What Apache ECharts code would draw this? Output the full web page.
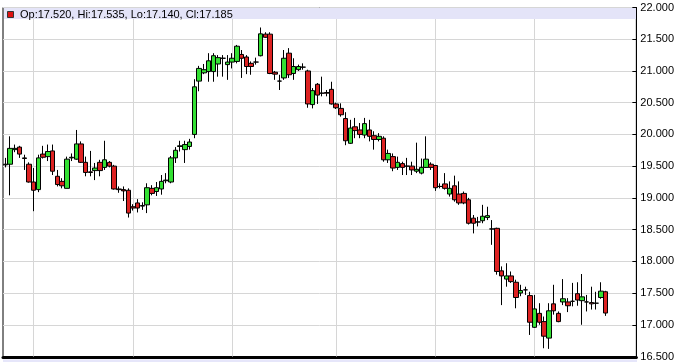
<!DOCTYPE html>
<html>
<head>
<meta charset="utf-8">
<script src="https://cdn.jsdelivr.net/npm/echarts@6/dist/echarts.min.js"></script>
<style>
html,body{margin:0;padding:0;background:#fff;}
#chart{width:677px;height:362px;}
</style>
</head>
<body>
<div id="chart"></div>
<script>
// ---- data ----
const opens = [
19.52, 19.53, 19.76, 19.80, 19.63, 19.53, 19.25, 19.13, 19.69, 19.65,
19.74, 19.34, 19.26, 19.15, 19.63, 19.61, 19.85, 19.56, 19.41, 19.43,
19.56, 19.48, 19.56, 19.50, 19.14, 19.13, 19.12, 18.86, 18.92, 18.87,
18.89, 19.15, 19.10, 19.14, 19.27, 19.25, 19.63, 19.81, 19.76, 19.81,
20.00, 20.84, 20.97, 20.99, 20.99, 21.11, 21.20, 21.10, 21.14, 21.15,
21.26, 21.22, 21.12, 21.14, 21.24, 21.58, 21.58, 20.98, 20.84, 20.89,
21.28, 20.96, 21.02, 21.06, 21.00, 20.47, 20.79, 20.65, 20.66, 20.71,
20.48, 20.41, 20.25, 19.86, 20.12, 20.07, 19.99, 20.07, 19.98, 19.92,
19.94, 19.60, 19.65, 19.48, 19.54, 19.50, 19.50, 19.42, 19.39, 19.48,
19.53, 19.51, 19.18, 19.22, 19.06, 19.19, 19.06, 19.07, 18.97, 18.68,
18.62, 18.64, 18.69, 18.51, 18.52, 17.85, 17.72, 17.77, 17.67, 17.50,
17.55, 17.46, 16.96, 17.18, 17.05, 16.79, 17.33, 17.18, 17.36, 17.36,
17.37, 17.49, 17.38, 17.36, 17.35, 17.34, 17.43, 17.52
];
const closes = [
19.53, 19.78, 19.78, 19.69, 19.62, 19.25, 19.12, 19.63, 19.64, 19.73,
19.42, 19.21, 19.19, 19.61, 19.64, 19.85, 19.56, 19.40, 19.40, 19.47,
19.43, 19.60, 19.50, 19.14, 19.13, 19.11, 18.76, 18.84, 18.84, 18.88,
19.16, 19.07, 19.16, 19.26, 19.28, 19.63, 19.75, 19.82, 19.84, 19.88,
20.75, 21.04, 21.02, 21.16, 21.24, 21.21, 21.20, 21.14, 21.20, 21.39,
21.20, 21.07, 21.07, 21.14, 21.585, 21.53, 20.96, 20.95, 20.84, 21.20,
20.94, 21.07, 21.07, 21.06, 20.48, 20.69, 20.62, 20.65, 20.65, 20.48,
20.42, 20.31, 19.90, 20.10, 20.06, 20.00, 20.17, 19.97, 19.92, 19.97,
19.60, 19.70, 19.47, 19.56, 19.48, 19.50, 19.44, 19.45, 19.48, 19.61,
19.48, 19.16, 19.18, 19.15, 19.15, 18.97, 18.92, 18.92, 18.60, 18.60,
18.62, 18.71, 18.72, 18.51, 17.84, 17.77, 17.77, 17.68, 17.43, 17.54,
17.55, 17.04, 17.25, 17.04, 16.82, 17.22, 17.22, 17.05, 17.41, 17.30,
17.37, 17.39, 17.44, 17.36, 17.33, 17.34, 17.53, 17.185
];
const lows = [
19.48, 19.04, 19.72, 19.63, 19.44, 19.24, 18.79, 19.09, 19.62, 19.58,
19.36, 19.18, 19.15, 19.15, 19.58, 19.60, 19.55, 19.34, 19.34, 19.28,
19.34, 19.44, 19.48, 19.13, 19.08, 18.95, 18.69, 18.80, 18.77, 18.81,
18.76, 19.04, 19.03, 19.05, 19.23, 19.23, 19.55, 19.73, 19.55, 19.76,
19.94, 20.68, 20.95, 20.83, 20.83, 20.91, 20.91, 20.86, 21.04, 21.12,
20.89, 20.95, 20.94, 21.10, 21.23, 21.52, 20.95, 20.86, 20.70, 20.86,
20.89, 20.86, 21.00, 21.02, 20.42, 20.41, 20.48, 20.60, 20.60, 20.47,
20.40, 20.28, 19.83, 19.85, 19.94, 19.94, 19.94, 19.89, 19.76, 19.89,
19.57, 19.55, 19.42, 19.44, 19.36, 19.36, 19.36, 19.39, 19.37, 19.47,
19.44, 19.11, 19.15, 19.13, 19.02, 18.94, 18.89, 18.90, 18.58, 18.44,
18.55, 18.60, 18.65, 18.26, 17.79, 17.31, 17.60, 17.66, 17.26, 17.45,
17.47, 16.84, 16.95, 17.00, 16.63, 16.62, 17.16, 17.04, 17.31, 17.20,
17.29, 17.30, 17.00, 17.21, 17.24, 17.24, 17.41, 17.14
];
const highs = [
19.63, 19.97, 19.84, 19.82, 19.68, 19.56, 19.47, 19.68, 19.82, 19.84,
19.84, 19.44, 19.31, 19.65, 19.70, 20.07, 19.89, 19.65, 19.74, 19.55,
19.60, 19.90, 19.58, 19.52, 19.18, 19.18, 19.15, 18.90, 18.98, 18.93,
19.23, 19.20, 19.25, 19.36, 19.39, 19.66, 19.80, 19.90, 19.90, 19.93,
20.87, 21.08, 21.11, 21.28, 21.28, 21.25, 21.25, 21.25, 21.28, 21.41,
21.33, 21.25, 21.15, 21.21, 21.685, 21.61, 21.61, 21.00, 20.94, 21.33,
21.36, 21.20, 21.10, 21.12, 21.02, 20.73, 20.81, 20.91, 20.70, 20.83,
20.50, 20.49, 20.35, 20.23, 20.26, 20.18, 20.26, 20.23, 20.05, 20.02,
19.97, 19.76, 19.70, 19.65, 19.57, 19.63, 19.57, 19.87, 19.62, 19.97,
19.56, 19.52, 19.23, 19.39, 19.26, 19.35, 19.26, 19.10, 19.00, 18.73,
18.70, 18.89, 18.86, 18.65, 18.53, 17.92, 17.97, 17.84, 17.71, 17.63,
17.60, 17.52, 17.47, 17.34, 17.13, 17.34, 17.63, 17.21, 17.72, 17.42,
17.66, 17.67, 17.80, 17.47, 17.60, 17.52, 17.67, 17.535
];
// trading-day categories; the last few are empty room on the right of the chart
const dayCount = opens.length;
const emptyDays = 6;
const categories = Array.from({length: dayCount + emptyDays}, (_, i) => 'D' + (i + 1));
// days on which a new month starts (vertical grid lines)
const monthStarts = ['D7', 'D28', 'D49', 'D71', 'D92', 'D113'];
// y axis ticks
const yMin = 16.5, yMax = 22.0, yStep = 0.5;

// ---- build ----
const ohlc = opens.map((o, i) => [o, closes[i], lows[i], highs[i]]);
const last = dayCount - 1;
const legendText = 'Op:' + opens[last].toFixed(3) + ', Hi:' + highs[last].toFixed(3) +
  ', Lo:' + lows[last].toFixed(3) + ', Cl:' + closes[last].toFixed(3);

const FONT = 'Liberation Sans';
const chart = echarts.init(document.getElementById('chart'), null, {renderer: 'canvas'});
const markData = monthStarts.map(d => ({xAxis: d}));
markData.push({
  yAxis: closes[last],
  lineStyle: {opacity: 0},
  label: {
    show: true, position: 'end', distance: 3,
    formatter: () => closes[last].toFixed(3),
    backgroundColor: '#000', color: '#fff',
    fontFamily: FONT, fontSize: 11, padding: [1, 1, 0, 1], lineHeight: 11
  }
});

chart.setOption({
  animation: false,
  backgroundColor: '#fff',
  grid: {
    left: 3, top: 7.5, width: 634, height: 349.2,
    show: true, borderColor: '#000', borderWidth: 1, backgroundColor: 'transparent'
  },
  xAxis: {
    type: 'category', data: categories, boundaryGap: true, offset: 1,
    axisLine: {show: true, lineStyle: {color: '#000', width: 3}},
    axisTick: {show: false}, axisLabel: {show: false}, splitLine: {show: false}
  },
  yAxis: {
    type: 'value', position: 'right', min: yMin, max: yMax, interval: yStep,
    axisLine: {show: true, lineStyle: {color: '#000', width: 1}},
    axisTick: {show: true, inside: true, length: 4, lineStyle: {color: '#000'}},
    axisLabel: {
      color: '#000', fontFamily: FONT, fontSize: 11, margin: 4,
      formatter: v => v.toFixed(3)
    },
    splitLine: {show: true, lineStyle: {color: '#d6d6d6', width: 1}}
  },
  series: [{
    type: 'candlestick',
    data: ohlc,
    barWidth: 5,
    z: 3,
    itemStyle: {
      color: '#33e033', color0: '#dd2222',
      borderColor: '#000', borderColor0: '#000', borderColorDoji: '#000',
      borderWidth: 1
    },
    markLine: {
      silent: true, symbol: 'none', z: 1, animation: false,
      label: {show: false},
      lineStyle: {color: '#d6d6d6', width: 1, type: 'solid'},
      emphasis: {disabled: true},
      data: markData
    }
  }],
  graphic: [
    {type: 'rect', z: 10, silent: true, shape: {x: 4, y: 8, width: 632, height: 11}, style: {fill: '#e4e4f8'}},
    {type: 'rect', z: 11, silent: true, shape: {x: 7.5, y: 11.5, width: 6, height: 6}, style: {fill: '#dd1111', stroke: '#333', lineWidth: 1}},
    {type: 'text', z: 11, silent: true, x: 20, y: 14.5,
      style: {text: legendText, fill: '#000', font: '11px "' + FONT + '"', textVerticalAlign: 'middle', verticalAlign: 'middle'}},
    {type: 'rect', z: 10, silent: true, shape: {x: 3, y: 359.5, width: 634, height: 3}, style: {fill: '#e6e6fa'}}
  ]
});
</script>
</body>
</html>
